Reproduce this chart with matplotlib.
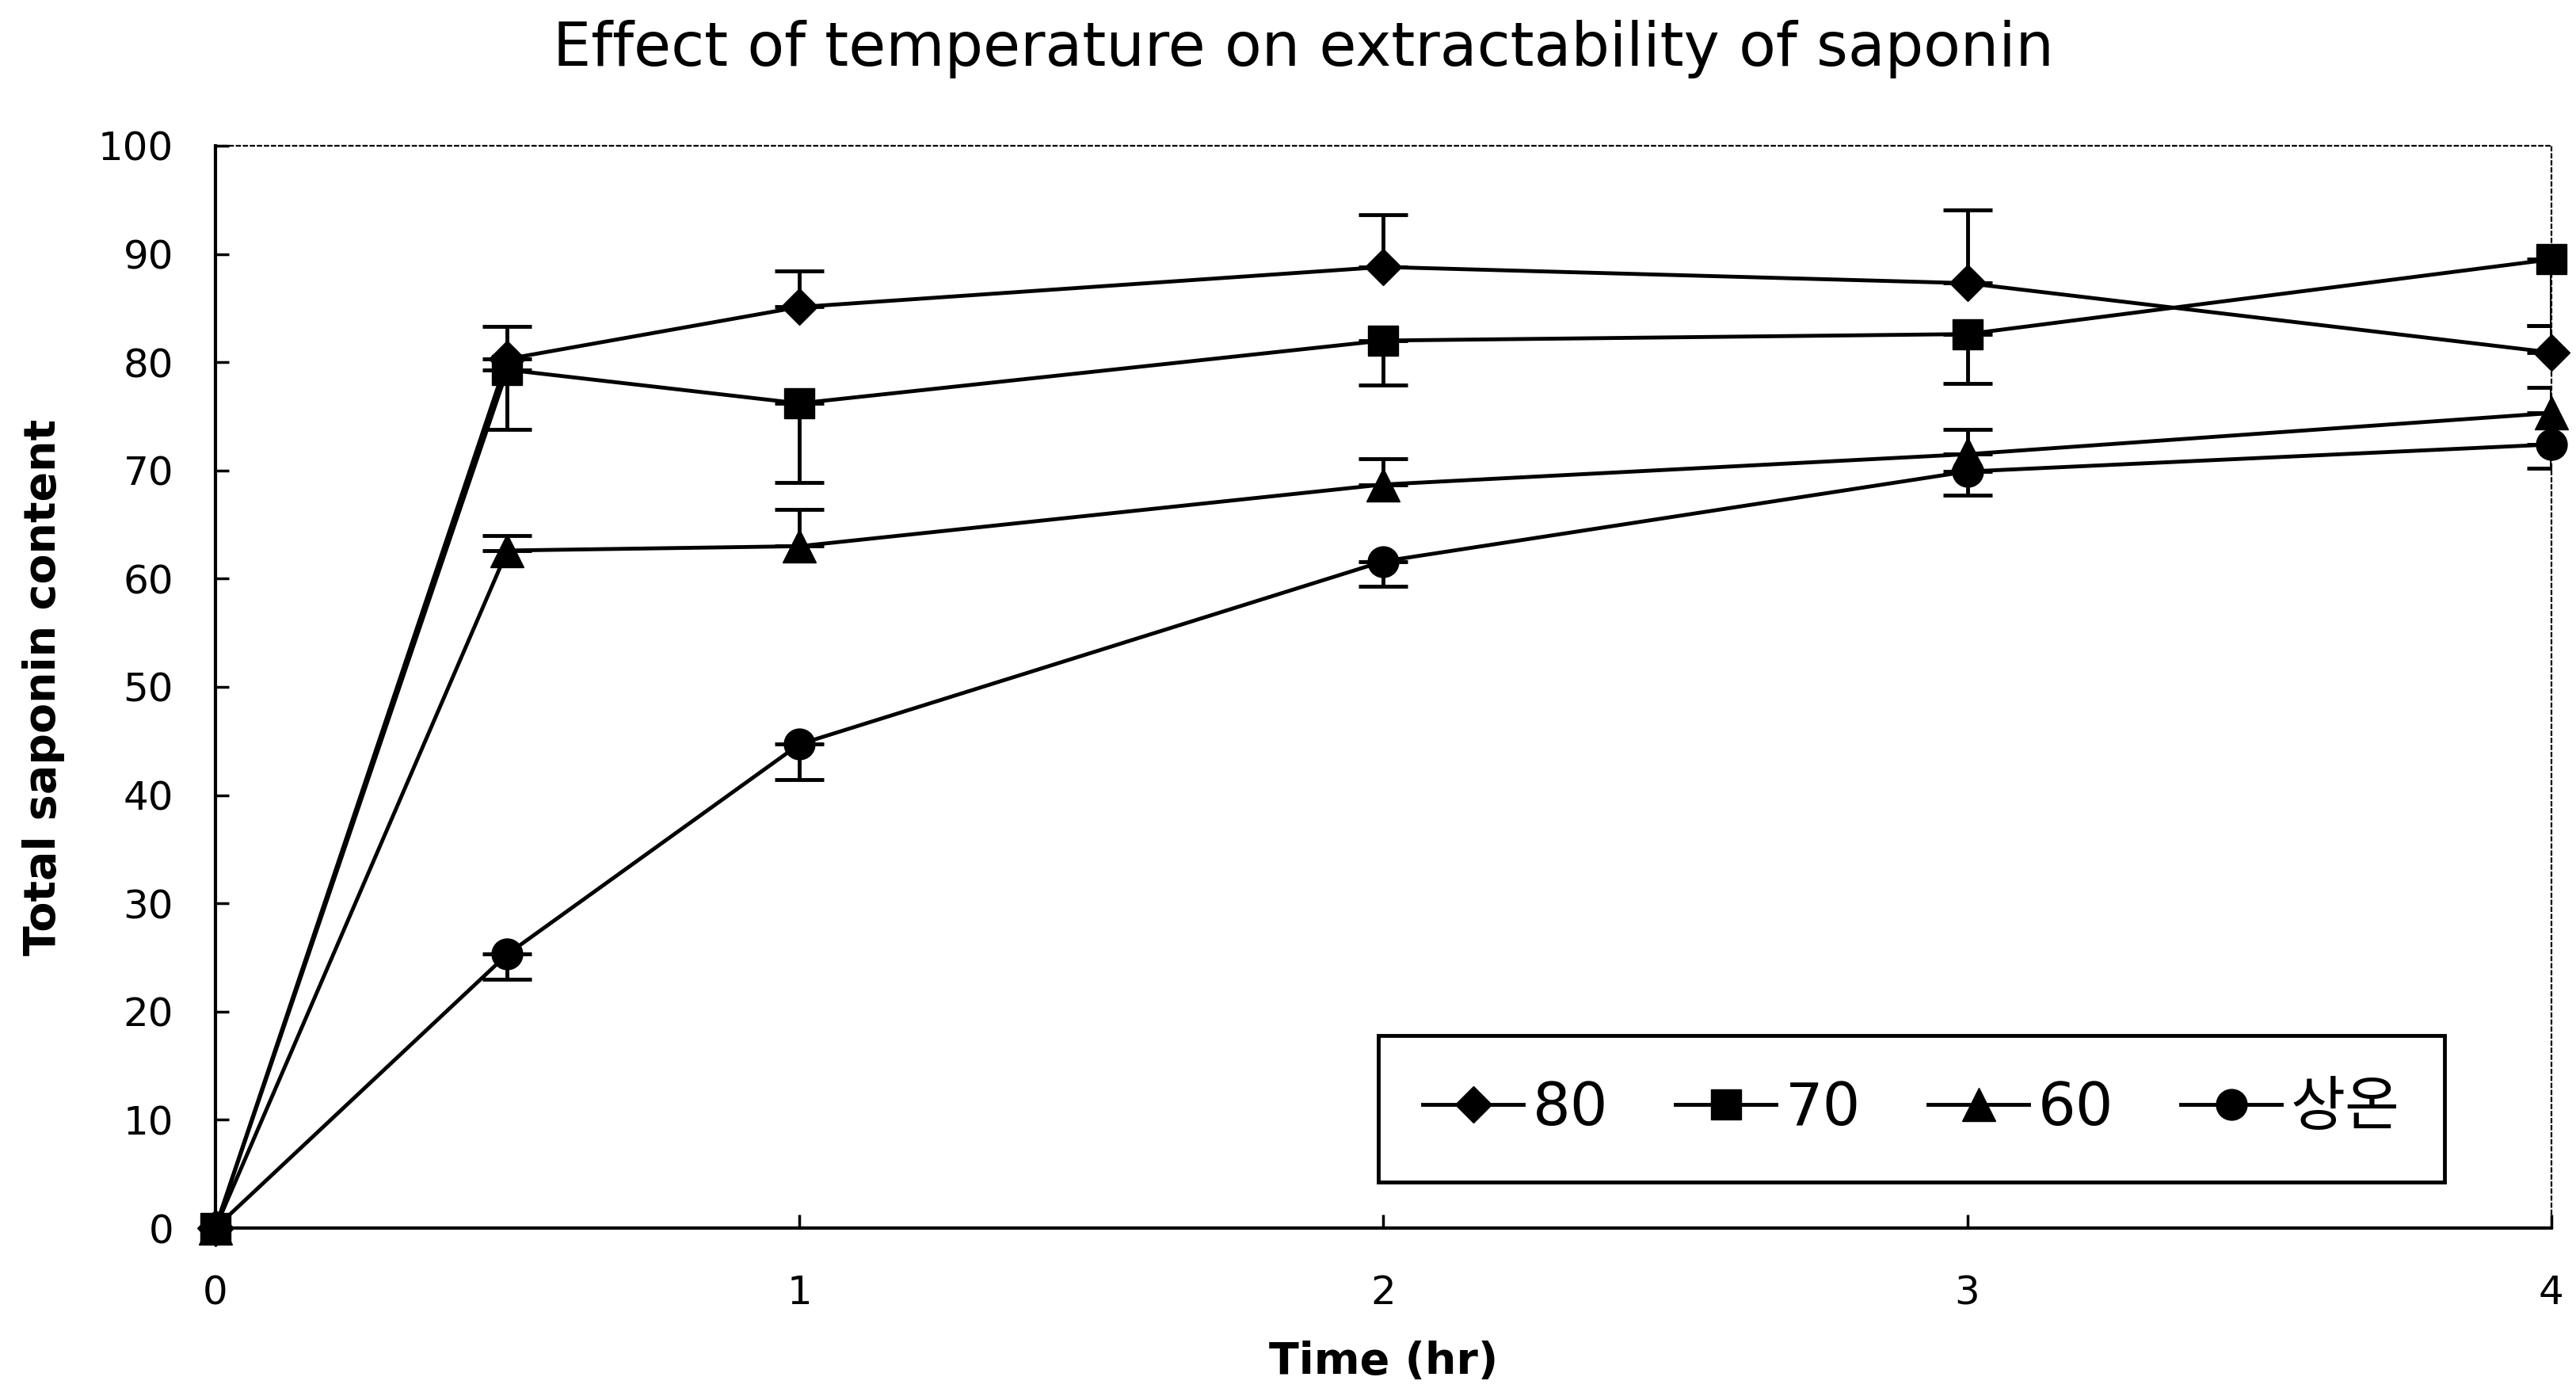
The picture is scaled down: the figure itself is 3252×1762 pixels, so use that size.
import matplotlib
matplotlib.use("Agg")
import matplotlib.pyplot as plt

plt.rcParams['font.family'] = ['DejaVu Sans', 'Noto Sans CJK KR']

# extraction time (hr)
time = [0, 0.5, 1, 2, 3, 4]

# total saponin content per extraction temperature
t80 = [0, 80.3, 85.1, 88.8, 87.3, 80.9]
t70 = [0, 79.3, 76.2, 82.0, 82.6, 89.5]
t60 = [0, 62.6, 63.0, 68.7, 71.5, 75.3]
room = [0, 25.3, 44.7, 61.6, 69.9, 72.4]

# error bars (80 and 60 shown upward, 70 and room temp. downward)
err80 = [0, 3.0, 3.3, 4.8, 6.8, 2.5]
err70 = [0, 5.5, 7.3, 4.1, 4.6, 6.1]
err60 = [0, 1.4, 3.4, 2.4, 2.3, 2.4]
err_room = [0, 2.3, 3.3, 2.3, 2.2, 2.2]

labels = ['80', '70', '60', '상온']
xticks = [0, 1, 2, 3, 4]
yticks = list(range(0, 101, 10))

fig = plt.figure(figsize=(32.52, 17.62), dpi=100)
ax = fig.add_axes([0.0836, 0.1203, 0.9068, 0.7753])

series = [
    (t80, err80, 'up', 'D', 23),
    (t70, err70, 'down', 's', 27),
    (t60, err60, 'up', '^', 30),
    (room, err_room, 'down', 'o', 28),
]

for (vals, err, side, mk, ms), lab in zip(series, labels):
    zeros = [0] * len(err)
    yerr = [zeros, err] if side == 'up' else [err, zeros]
    ax.errorbar(time, vals, yerr=yerr, fmt='none', ecolor='black',
                elinewidth=3.5, capsize=22, capthick=3.5, zorder=2)
    ax.plot(time, vals, color='black', linewidth=3.5, marker=mk,
            markersize=ms, markerfacecolor='black', markeredgecolor='black',
            label=lab, zorder=3, clip_on=False)

ax.set_xlim(0, 4)
ax.set_ylim(0, 100)
ax.set_xticks(xticks)
ax.set_yticks(yticks)
ax.tick_params(axis='both', direction='in', length=12, width=2.5,
               labelsize=36, pad=38)
ax.tick_params(axis='x', pad=42)

for s in ['left', 'bottom']:
    ax.spines[s].set_linewidth(3)
for s in ['top', 'right']:
    ax.spines[s].set_linewidth(1.6)
    ax.spines[s].set_linestyle((0, (2, 2)))

ax.set_xlabel('Time (hr)', fontsize=40, fontweight='bold', labelpad=26)
ax.set_ylabel('Total saponin content', fontsize=40, fontweight='bold',
              labelpad=30)

fig.text(0.506, 0.9648, 'Effect of temperature on extractability of saponin',
         ha='center', va='center', fontsize=55)

leg = ax.legend(ncol=4, loc='center', mode='expand',
                bbox_to_anchor=(0.485, 0.0447, 0.482, 0.131),
                fontsize=54, handlelength=1.7, handletextpad=0.15,
                borderpad=0.75, fancybox=False, edgecolor='black',
                framealpha=1)
leg.get_frame().set_linewidth(3.5)

fig.savefig('out.png', dpi=100, facecolor='white')
